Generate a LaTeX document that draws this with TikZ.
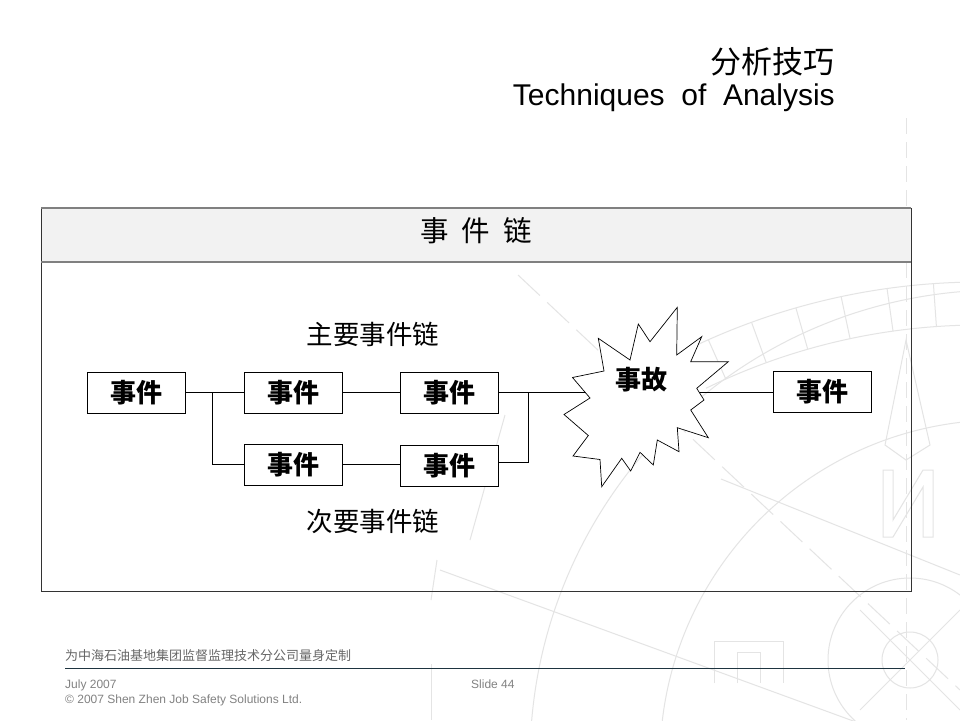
\documentclass[tikz,border=0pt]{standalone}
\usepackage{fontspec}
\setmainfont{Liberation Sans}
\newfontfamily\cjk{Noto Sans CJK SC}
\usetikzlibrary{calc}
\definecolor{hdrfill}{RGB}{242,242,242}
\definecolor{hdrline}{RGB}{128,128,128}
\definecolor{footline}{RGB}{30,52,64}
\definecolor{foottext}{RGB}{130,130,130}
\definecolor{wmcol}{RGB}{228,228,228}
\begin{document}
\begin{tikzpicture}[x=1pt,y=-1pt,
  evt/.style={draw=black, line width=0.8pt, fill=white, minimum width=98pt,
    minimum height=41pt, inner sep=0pt, font=\cjk\bfseries\fontsize{26}{26}\selectfont},
  conn/.style={draw=black, line width=0.8pt},
  wm/.style={draw=wmcol, line width=1pt},
  chainlbl/.style={font=\cjk\fontsize{26.5}{27}\selectfont, inner sep=0pt},
  foot/.style={font=\fontsize{12}{12}\selectfont, text=foottext, inner sep=0pt, anchor=base west}]
\useasboundingbox (0,0) rectangle (960,720);
\fill[white] (0,0) rectangle (960,720);
% ---------- faint watermark ----------
\begin{scope}
\clip (0,0) rectangle (960,720);
\coordinate (C) at (1000,760);
\draw[wm] (C) ++(-178:470) arc[start angle=-178, end angle=-80, radius=470];
\draw[wm] (C) ++(-180:340) arc[start angle=-180, end angle=-80, radius=340];
\coordinate (B) at (980,950);
\draw[wm] (B) ++(-116:668) arc[start angle=-116, end angle=-78, radius=668];
\draw[wm] (B) ++(-116:625) arc[start angle=-116, end angle=-78, radius=625];
\foreach \a in {-114,-110,...,-78} {\draw[wm] ($(B)+(\a:625)$) -- ($(B)+(\a:668)$);}
\draw[wm, dash pattern=on 16pt off 8pt] (906,118) -- (906,720);
\draw[wm] (910,660) circle[radius=28];
\draw[wm] (910,660) circle[radius=82];
\draw[wm] (860,610) -- (960,710);
\draw[wm] (860,710) -- (960,610);
\draw[wm] (906,340) -- (885,445) -- (906,460) -- (930,445) -- cycle;
\draw[wm] (883,537) -- (883,470) -- (893,470) -- (893,520) -- (923,470) -- (933,470)
  -- (933,537) -- (923,537) -- (923,487) -- (893,537) -- cycle;
\draw[wm] (714,683) -- (714,641) -- (783,641) -- (783,683);
\draw[wm] (737,683) -- (737,652) -- (760,652) -- (760,683);
\draw[wm, dash pattern=on 30pt off 10pt] (518,275) -- (960,690);
\draw[wm] (440,570) -- (960,760);
\draw[wm] (721,479) -- (960,575);
\draw[wm] (437,560) -- (431,600);
\draw[wm] (505,415) -- (470,540);
\draw[wm] (431,664) -- (431,720);
\end{scope}
% ---------- title ----------
\node[anchor=east, inner sep=0pt, font=\cjk\fontsize{31}{31}\selectfont] (t1) at (835,62) {分析技巧};
\node[anchor=base east, inner sep=0pt, font=\fontsize{30}{31}\selectfont] (t2) at (835,105) {Techniques\ \ of\ \ Analysis};
% ---------- frame ----------
\fill[hdrfill] (41,208) rectangle (911,262);
\draw[line width=0.8pt, black!80] (41,208) -- (41,591) -- (911,591) -- (911,208);
\draw[line width=1.8pt, hdrline] (41,208) -- (911,208);
\draw[line width=1.8pt, hdrline] (41,262) -- (911,262);
\node[inner sep=0pt, font=\cjk\fontsize{28.5}{29}\selectfont] (hdr) at (476,231) {事\hspace{0.45em}件\hspace{0.45em}链};
% ---------- labels ----------
\node[chainlbl] (main) at (373,334) {主要事件链};
\node[chainlbl] (sec) at (373,521) {次要事件链};
% ---------- event boxes ----------
\node[evt] (b1) at (136.5,392.5) {事件};
\node[evt] (b2) at (293,392.5) {事件};
\node[evt] (b3) at (449,393) {事件};
\node[evt] (b4) at (293,464.5) {事件};
\node[evt] (b5) at (449,466) {事件};
\node[evt] (b6) at (822,392) {事件};
% ---------- connectors ----------
\coordinate (j1) at (212,392.5);
\coordinate (j2) at (528,392.5);
\coordinate (sl) at (590,392.5);
\coordinate (sr) at (697,392.5);
\draw[conn] (b1.east) -- (b2.west);
\draw[conn] (j1) |- (b4.west);
\draw[conn] (b2.east) -- (b2.east -| b3.west);
\draw[conn] (b4.east) -- (b4.east -| b5.west);
\draw[conn] (b3.east |- j2) -- (sl);
\draw[conn] (b5.east |- 0,462) -| (j2);
\draw[conn] (sr) -- (b6.west |- sr);
% ---------- starburst ----------
\draw[line width=0.7pt, fill=white, line join=miter]
  (598.3,338.3) -- (604,371) -- (572.5,377.5) -- (590,398) -- (564,414.5)
  -- (588.3,435.5) -- (573,456) -- (600,459.5) -- (601.7,486.7) -- (621.7,458.3)
  -- (630.7,471) -- (640,452.3) -- (653.3,465) -- (657.3,440) -- (679,451.7)
  -- (677.3,427.7) -- (708.3,437.7) -- (690.7,410) -- (704,400) -- (696.7,388.3)
  -- (728.3,361.7) -- (690.7,361.7) -- (701.7,336.7) -- (676.7,355) -- (677.3,307.3)
  -- (650,341.7) -- (638.3,324) -- (630,360) -- cycle;
\node[inner sep=0pt, font=\cjk\bfseries\fontsize{26}{26}\selectfont] (acc) at (641.5,380) {事故};
% ---------- footer ----------
\node[anchor=west, inner sep=0pt, text=black!60, font=\cjk\fontsize{13}{13}\selectfont] (f1) at (65,656) {为中海石油基地集团监督监理技术分公司量身定制};
\draw[line width=1pt, footline] (65,668) -- (905,668);
\node[foot] (f2) at (65,688) {July 2007};
\node[foot] (f3) at (65,703) {\textcopyright\ 2007 Shen Zhen Job Safety Solutions Ltd.};
\node[foot] (f4) at (471,688) {Slide 44};
\end{tikzpicture}
\end{document}
